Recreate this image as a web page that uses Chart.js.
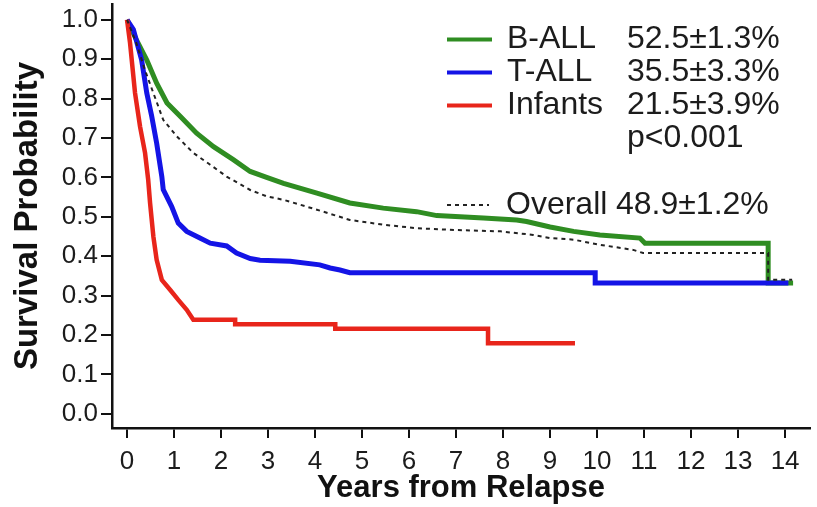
<!DOCTYPE html>
<html>
<head>
<meta charset="utf-8">
<title>Survival from relapse by subgroup</title>
<script src="https://cdn.jsdelivr.net/npm/chart.js@4.4.1/dist/chart.umd.min.js"></script>
<style>
  html, body { margin: 0; padding: 0; background: #fff; }
  #wrap { width: 817px; height: 507px; }
</style>
</head>
<body>
<div id="wrap"><canvas id="chart" width="817" height="507"></canvas></div>
<script>
// --- Data ---
const bAllYears = [0, 0.2, 0.42, 0.63, 0.85, 1.13, 1.48, 1.84, 2.26, 2.62, 2.97, 3.33, 4.04, 4.74, 5.45, 6.16, 6.59, 7.58, 8.29, 8.5, 9.0, 9.5, 10.06, 10.91, 11.02, 13.64, 13.64, 14.17];
const bAllSurv  = [1.0, 0.949, 0.898, 0.839, 0.789, 0.755, 0.712, 0.678, 0.645, 0.615, 0.6, 0.585, 0.56, 0.535, 0.522, 0.513, 0.503, 0.497, 0.492, 0.488, 0.474, 0.463, 0.454, 0.446, 0.433, 0.433, 0.332, 0.332];

const tAllYears = [0, 0.135, 0.31, 0.42, 0.525, 0.63, 0.74, 0.77, 0.95, 1.09, 1.27, 1.55, 1.77, 2.12, 2.33, 2.62, 2.83, 3.47, 4.1, 4.32, 4.53, 4.74, 9.96, 9.96, 14.07];
const tAllSurv  = [1.0, 0.975, 0.898, 0.814, 0.755, 0.687, 0.602, 0.569, 0.526, 0.484, 0.463, 0.446, 0.433, 0.426, 0.408, 0.394, 0.39, 0.387, 0.378, 0.37, 0.365, 0.358, 0.358, 0.332, 0.332];

const infantYears = [0, 0.064, 0.17, 0.277, 0.383, 0.45, 0.49, 0.56, 0.63, 0.74, 0.915, 1.09, 1.27, 1.41, 2.3, 2.3, 4.43, 4.43, 7.68, 7.68, 9.53];
const infantSurv  = [1.0, 0.941, 0.814, 0.729, 0.662, 0.594, 0.535, 0.45, 0.391, 0.34, 0.315, 0.289, 0.264, 0.239, 0.239, 0.227, 0.227, 0.216, 0.216, 0.179, 0.179];

const overallYears = [0, 0.2, 0.38, 0.56, 0.77, 1.06, 1.41, 1.77, 2.12, 2.62, 2.97, 3.33, 4.04, 4.74, 5.45, 6.16, 6.87, 7.94, 8.64, 9.0, 9.5, 10.06, 10.77, 10.98, 13.64, 13.64, 14.15];
const overallSurv  = [1.0, 0.94, 0.873, 0.814, 0.746, 0.704, 0.662, 0.632, 0.602, 0.568, 0.552, 0.543, 0.518, 0.492, 0.48, 0.471, 0.467, 0.463, 0.454, 0.446, 0.442, 0.429, 0.416, 0.408, 0.408, 0.34, 0.34];

// Key entries
const groupLabels = ['B-ALL', 'T-ALL', 'Infants'];
const groupRates  = ['52.5±1.3%', '35.5±3.3%', '21.5±3.9%'];
const pValueText  = 'p<0.001';
const overallLabel = 'Overall';
const overallRate  = '48.9±1.2%';

// Axis ticks
const xTickValues = [0, 1, 2, 3, 4, 5, 6, 7, 8, 9, 10, 11, 12, 13, 14];
const yTickValues = [0, 0.1, 0.2, 0.3, 0.4, 0.5, 0.6, 0.7, 0.8, 0.9, 1.0];

// --- Styling ---
const GREEN = '#2f8d22';
const BLUE = '#1414e6';
const RED = '#e8251b';
const INK = '#1c1c1c';
const FONT = '"Liberation Sans", Arial, Helvetica, sans-serif';

function toPoints(xs, ys) {
    return xs.map((x, i) => ({ x: x, y: ys[i] }));
}

// Draws the key in the upper right, two columns plus p-value and overall row
const survivalKey = {
    id: 'survivalKey',
    afterDraw(chart) {
        const ctx = chart.ctx;
        const colors = [GREEN, BLUE, RED];
        const rowY = i => 39.5 + i * 33;
        ctx.save();
        ctx.font = '32px ' + FONT;
        ctx.fillStyle = INK;
        ctx.textBaseline = 'middle';
        ctx.textAlign = 'left';
        groupLabels.forEach((label, i) => {
            ctx.strokeStyle = colors[i];
            ctx.lineWidth = 4;
            ctx.beginPath();
            ctx.moveTo(447, rowY(i));
            ctx.lineTo(492, rowY(i));
            ctx.stroke();
            ctx.fillText(label, 507, rowY(i));
            ctx.fillText(groupRates[i], 627, rowY(i));
        });
        ctx.fillText(pValueText, 627, rowY(3));

        // overall row
        ctx.strokeStyle = '#222';
        ctx.lineWidth = 2;
        ctx.setLineDash([4, 4]);
        ctx.beginPath();
        ctx.moveTo(447, 205);
        ctx.lineTo(489, 205);
        ctx.stroke();
        ctx.setLineDash([]);
        ctx.fillText(overallLabel, 506, 205);
        ctx.fillText(overallRate, 616, 205);
        ctx.restore();
    }
};

// the scales reserve room for half a label at each end; the axes here don't need it
function dropEdgePadding(scale) {
    scale.paddingTop = 0;
    scale.paddingBottom = 0;
    scale.paddingLeft = 0;
    scale.paddingRight = 0;
}

Chart.defaults.font.family = FONT;
Chart.defaults.color = INK;

const ctx = document.getElementById('chart').getContext('2d');
new Chart(ctx, {
    type: 'line',
    data: {
        datasets: [{
            label: overallLabel,
            data: toPoints(overallYears, overallSurv),
            borderColor: '#222',
            borderWidth: 2,
            borderDash: [4, 4],
            pointRadius: 0,
            fill: false,
            tension: 0
        }, {
            label: groupLabels[2],
            data: toPoints(infantYears, infantSurv),
            borderColor: RED,
            borderWidth: 4.5,
            pointRadius: 0,
            fill: false,
            tension: 0
        }, {
            label: groupLabels[1],
            data: toPoints(tAllYears, tAllSurv),
            borderColor: BLUE,
            borderWidth: 5,
            pointRadius: 0,
            fill: false,
            tension: 0
        }, {
            label: groupLabels[0],
            data: toPoints(bAllYears, bAllSurv),
            borderColor: GREEN,
            borderWidth: 5,
            pointRadius: 0,
            fill: false,
            tension: 0
        }]
    },
    options: {
        responsive: false,
        animation: false,
        devicePixelRatio: 1,
        layout: { padding: { top: 4, right: 7, bottom: 0, left: 0 } },
        plugins: {
            legend: { display: false },
            tooltip: { enabled: false }
        },
        scales: {
            x: {
                type: 'linear',
                min: -0.32,
                max: 14.53,
                afterBuildTicks: axis => { axis.ticks = xTickValues.map(v => ({ value: v })); },
                afterFit: scale => { scale.height = 79; dropEdgePadding(scale); },
                ticks: {
                    font: { size: 26 },
                    color: INK,
                    padding: 8,
                    maxRotation: 0,
                    autoSkip: false
                },
                grid: { drawOnChartArea: false, color: '#111', lineWidth: 2, tickLength: 10 },
                border: { display: true, color: '#111', width: 2.5 },
                title: {
                    display: true,
                    text: 'Years from Relapse',
                    color: '#111',
                    font: { size: 31, weight: 'bold' },
                    padding: { top: 0, bottom: 0 }
                }
            },
            y: {
                type: 'linear',
                min: -0.036,
                max: 1.04,
                afterBuildTicks: axis => { axis.ticks = yTickValues.map(v => ({ value: v })); },
                afterFit: scale => { scale.width = 112; dropEdgePadding(scale); },
                ticks: {
                    font: { size: 26 },
                    color: INK,
                    padding: 3,
                    callback: v => v.toFixed(1)
                },
                grid: { drawOnChartArea: false, color: '#111', lineWidth: 2, tickLength: 11 },
                border: { display: true, color: '#111', width: 2.5 },
                title: {
                    display: true,
                    text: 'Survival Probability',
                    color: '#111',
                    font: { size: 33, weight: 'bold' },
                    padding: { top: 8, bottom: 0 }
                }
            }
        }
    },
    plugins: [survivalKey]
});
</script>
</body>
</html>
